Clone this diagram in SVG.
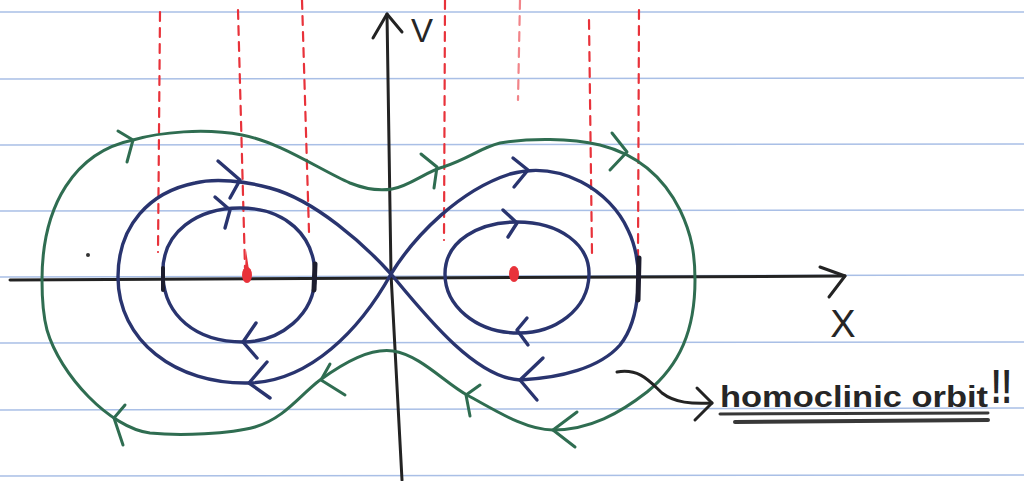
<svg xmlns="http://www.w3.org/2000/svg" width="1024" height="481" viewBox="0 0 1024 481">
  <style>
    .rule { stroke: #a9bfe6; stroke-width: 1.6; fill: none; }
    .axis { stroke: #232323; stroke-width: 3; fill: none; stroke-linecap: round; stroke-linejoin: round; }
    .red { stroke: #e8323a; stroke-width: 2.2; fill: none; stroke-dasharray: 9 7; stroke-linecap: round; }
    .green { stroke: #2f6d51; stroke-width: 3; fill: none; stroke-linecap: round; stroke-linejoin: round; }
    .blue { stroke: #29346f; stroke-width: 3.4; fill: none; stroke-linecap: round; stroke-linejoin: round; }
    .lbl { font-family: "Liberation Sans", Arial, sans-serif; fill: #262626; }
  </style>
  <rect width="1024" height="481" fill="#ffffff"/>

  <g id="paper-rules">
    <line class="rule" x1="0" y1="12" x2="1024" y2="12"/>
    <line class="rule" x1="0" y1="79" x2="1024" y2="78"/>
    <line class="rule" x1="0" y1="145" x2="1024" y2="144"/>
    <line class="rule" x1="0" y1="211" x2="1024" y2="210"/>
    <line class="rule" x1="0" y1="277" x2="1024" y2="275"/>
    <line class="rule" x1="0" y1="343" x2="1024" y2="342"/>
    <line class="rule" x1="0" y1="410" x2="1024" y2="408"/>
    <line class="rule" x1="0" y1="476" x2="1024" y2="475"/>
  </g>

  <g id="red-guides">
    <line class="red" x1="160" y1="12" x2="158" y2="252"/>
    <line class="red" x1="238" y1="10" x2="245" y2="268"/>
    <line class="red" x1="302" y1="0" x2="309" y2="232"/>
    <line class="red" x1="445" y1="0" x2="444" y2="240"/>
    <line class="red" x1="520" y1="0" x2="518" y2="100" stroke-dasharray="5 14" opacity="0.6"/>
    <line class="red" x1="589" y1="20" x2="592" y2="254"/>
    <line class="red" x1="639" y1="10" x2="638" y2="256"/>
  </g>

  <g id="axes">
    <path class="axis" d="M10,280 L845,276"/>
    <path class="axis" d="M820,267 L845,276 L829,297"/>
    <path class="axis" d="M387,14 L391,274 L402,480"/>
    <path class="axis" d="M373,38 L387,14 L402,32"/>
    <text class="lbl" x="422" y="42" font-size="33" text-anchor="middle">V</text>
    <text class="lbl" x="843" y="337" font-size="38" text-anchor="middle">X</text>
  </g>

  <g id="outer-orbit">
    <path class="green" d="M42,280 C42,205 75,152 133,140 C160,132 205,128 242,135 C280,142 320,170 350,183 C365,189 380,191 392,189 C410,186 425,172 443,167 C470,158 480,148 500,143 C530,138 570,138 600,145 C640,155 665,180 680,210 C692,235 695,255 695,280 C695,330 680,365 647,392 C620,413 590,430 553,430 C525,430 495,410 467,395 C445,383 420,355 393,351 C370,348 345,362 320,380 C300,395 285,418 255,427 C230,434 180,436 150,433 C110,428 60,375 47,330 C43,315 42,295 42,280 Z"/>
    <path class="green" d="M118,131 L133,140 L127,162"/>
    <path class="green" d="M421,154 L437,167 L434,188"/>
    <path class="green" d="M612,133 L627,152 L610,170"/>
    <path class="green" d="M577,412 L553,430 L575,447"/>
    <path class="green" d="M480,385 L466,395 L470,416"/>
    <path class="green" d="M330,364 L321,380 L345,395"/>
    <path class="green" d="M125,405 L114,418 L123,445"/>
  </g>

  <g id="homoclinic-orbit">
    <path class="blue" d="M391,274 C365,245 315,200 270,188 C245,181 215,178 195,183 C150,192 118,225 118,277 C118,340 175,385 250,383 C310,381 360,330 391,274"/>
    <path class="blue" d="M391,274 C415,235 460,190 510,174 C560,160 610,190 628,230 C645,265 640,320 620,345 C600,368 560,378 520,380 C475,378 425,315 391,274"/>
    <path class="blue" d="M218,161 L240,180 L230,198"/>
    <path class="blue" d="M267,362 L249,383 L270,398"/>
    <path class="blue" d="M513,158 L528,170 L514,187"/>
    <path class="blue" d="M543,358 L520,380 L537,400"/>
  </g>

  <g id="inner-left-orbit">
    <path class="blue" d="M163,277 C160,230 200,208 240,208 C285,208 315,235 315,276 C315,315 280,342 243,342 C195,342 165,315 163,277 Z"/>
    <path class="blue" d="M215,197 L230,210 L225,228"/>
    <path class="blue" d="M256,323 L243,342 L257,358"/>
  </g>

  <g id="inner-right-orbit">
    <path class="blue" d="M445,274 C445,240 480,222 517,222 C560,222 590,245 589,275 C588,310 555,333 519,333 C475,333 445,305 445,274 Z"/>
    <path class="blue" d="M503,210 L517,223 L508,237"/>
    <path class="blue" d="M527,318 L517,330 L528,345"/>
  </g>

  <g id="axis-crossings" stroke="#1d1d2e" stroke-linecap="round">
    <line x1="315" y1="264" x2="314" y2="290" stroke-width="5"/>
    <line x1="639" y1="258" x2="638" y2="300" stroke-width="5"/>
    <line x1="163" y1="268" x2="163" y2="290" stroke-width="4"/>
    <circle cx="88" cy="255" r="2" fill="#333" stroke="none"/>
  </g>

  <g id="fixed-points" fill="#e8323a">
    <ellipse cx="247" cy="275" rx="5" ry="8"/>
    <path d="M245,270 L246,250 L249,270 Z"/>
    <ellipse cx="514" cy="274" rx="5" ry="8"/>
  </g>

  <g id="annotation">
    <path class="axis" d="M617,372 C640,368 650,382 662,393 C675,403 692,404 712,403"/>
    <path class="axis" d="M697,388 L712,403 L695,420"/>
    <text class="lbl" x="720" y="407" font-size="30" font-weight="bold" fill="#383838" textLength="268" lengthAdjust="spacingAndGlyphs">homoclinic orbit</text>
    <text class="lbl" transform="translate(991,403) scale(0.65,1)" x="0" y="0" font-size="48" font-weight="bold" fill="#383838">!!</text>
    <line x1="720" y1="414" x2="988" y2="413" stroke="#383838" stroke-width="3" stroke-linecap="round"/>
    <line x1="735" y1="422" x2="988" y2="420" stroke="#383838" stroke-width="4" stroke-linecap="round"/>
  </g>
</svg>
